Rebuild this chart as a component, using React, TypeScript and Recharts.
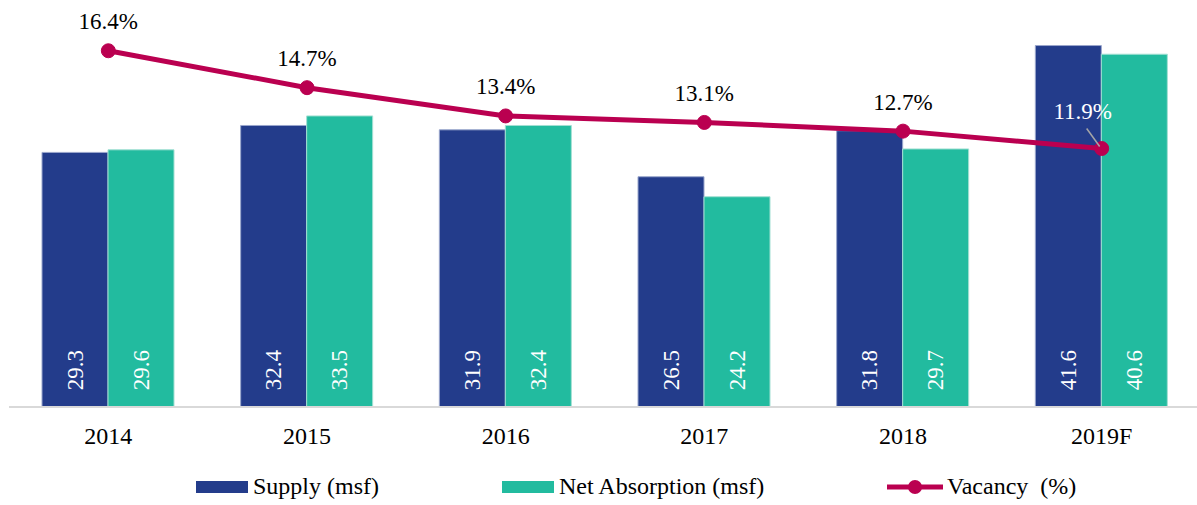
import React from 'react';
import { ComposedChart, Bar, Line, XAxis, YAxis, LabelList } from 'recharts';

const years = ['2014', '2015', '2016', '2017', '2018', '2019F'];
const supply = [29.3, 32.4, 31.9, 26.5, 31.8, 41.6];
const netAbsorption = [29.6, 33.5, 32.4, 24.2, 29.7, 40.6];
const vacancy = [16.4, 14.7, 13.4, 13.1, 12.7, 11.9];

const data = years.map((year, i) => ({
  year,
  supply: supply[i],
  net: netAbsorption[i],
  vacancy: vacancy[i]
}));

const FONT = '"Liberation Serif", "Times New Roman", serif';
const SUPPLY_COLOR = '#233C8B';
const NET_COLOR = '#22BB9F';
const LINE_COLOR = '#BA0050';

const BarValueLabel = (props: any) => {
  const { x, y, width, height, value } = props;
  const cx = x + width / 2;
  const cy = y + height - 37;
  return (
    <text
      x={cx}
      y={cy}
      transform={`rotate(-90 ${cx} ${cy})`}
      textAnchor="middle"
      dominantBaseline="central"
      fill="#fff"
      fontSize={23}
      fontFamily={FONT}
    >
      {Number(value).toFixed(1)}
    </text>
  );
};

const VacancyLabel = (props: any) => {
  const { x, y, value, index } = props;
  const text = `${Number(value).toFixed(1)}%`;
  if (index === vacancy.length - 1) {
    return (
      <g>
        <line x1={x - 15} y1={y - 20} x2={x - 2} y2={y - 2} stroke="#a6a6a6" strokeWidth={1.5} />
        <text x={x - 19} y={y - 37} textAnchor="middle" dominantBaseline="central" fill="#fff" fontSize={23} fontFamily={FONT}>
          {text}
        </text>
      </g>
    );
  }
  return (
    <text x={x} y={y - 29} textAnchor="middle" dominantBaseline="central" fill="#000" fontSize={23} fontFamily={FONT}>
      {text}
    </text>
  );
};

const legendItems = [
  { label: 'Supply (msf)', color: SUPPLY_COLOR, type: 'rect', left: 196 },
  { label: 'Net Absorption (msf)', color: NET_COLOR, type: 'rect', left: 502 },
  { label: 'Vacancy  (%)', color: LINE_COLOR, type: 'line', left: 887 }
];

export default function App() {
  return (
    <div style={{ position: 'absolute', left: 0, top: 0, width: 1197, height: 505, overflow: 'hidden', background: '#fff', fontFamily: FONT }}>
      <ComposedChart
        width={1201}
        height={505}
        data={data}
        margin={{ top: 16, right: 0, left: 9, bottom: 58 }}
        barCategoryGap={33}
        barGap={0}
      >
        <XAxis
          dataKey="year"
          height={40}
          axisLine={{ stroke: '#d9d9d9', strokeWidth: 2 }}
          tickLine={false}
          tickMargin={14}
          tick={{ fontSize: 24, fill: '#000', fontFamily: FONT }}
        />
        <YAxis yAxisId="bars" domain={[0, 45]} hide />
        <YAxis yAxisId="pct" orientation="right" domain={[0, 18]} hide />
        <Bar yAxisId="bars" dataKey="supply" fill={SUPPLY_COLOR} stroke="#9aa6cc" strokeWidth={1} isAnimationActive={false}>
          <LabelList dataKey="supply" content={BarValueLabel} />
        </Bar>
        <Bar yAxisId="bars" dataKey="net" fill={NET_COLOR} stroke="#a3e0d3" strokeWidth={1} isAnimationActive={false}>
          <LabelList dataKey="net" content={BarValueLabel} />
        </Bar>
        <Line
          yAxisId="pct"
          dataKey="vacancy"
          stroke={LINE_COLOR}
          strokeWidth={5}
          dot={{ r: 7, fill: LINE_COLOR, stroke: LINE_COLOR, strokeWidth: 1 }}
          activeDot={false}
          isAnimationActive={false}
        >
          <LabelList dataKey="vacancy" content={VacancyLabel} />
        </Line>
      </ComposedChart>
      {legendItems.map(item => (
        <div
          key={item.label}
          style={{ position: 'absolute', left: item.left, top: 473, display: 'flex', alignItems: 'center', fontSize: 24, color: '#000', whiteSpace: 'pre' }}
        >
          {item.type === 'rect' ? (
            <div style={{ width: 52, height: 12, background: item.color, marginRight: 5 }} />
          ) : (
            <svg width={56} height={16} style={{ marginRight: 4 }}>
              <line x1={0} y1={8} x2={56} y2={8} stroke={item.color} strokeWidth={5} strokeLinecap="round" />
              <circle cx={28} cy={8} r={7} fill={item.color} />
            </svg>
          )}
          <span>{item.label}</span>
        </div>
      ))}
    </div>
  );
}
